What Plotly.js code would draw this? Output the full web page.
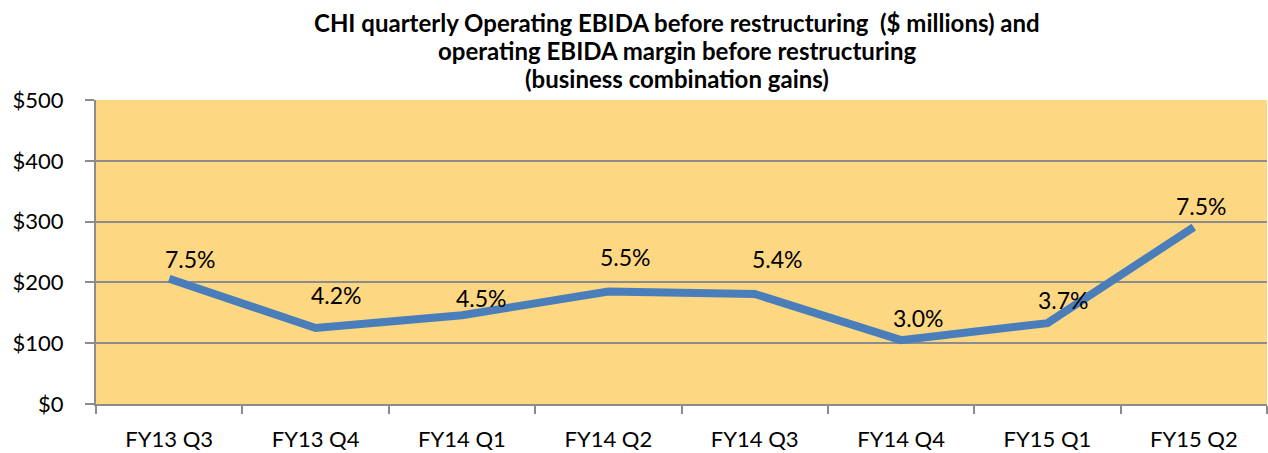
<!DOCTYPE html>
<html>
<head>
<meta charset="utf-8">
<script src="https://cdn.plot.ly/plotly-3.0.1.min.js"></script>
<style>html,body{margin:0;padding:0;background:#fff;}#chart{width:1268px;height:453px;}</style>
</head>
<body>
<div id="chart"></div>
<script>
// Data
const quarters = ["FY13 Q3", "FY13 Q4", "FY14 Q1", "FY14 Q2", "FY14 Q3", "FY14 Q4", "FY15 Q1", "FY15 Q2"];
const ebidaMillions = [206, 125, 146, 185, 181, 105, 133, 291];
const marginLabels = ["7.5%", "4.2%", "4.5%", "5.5%", "5.4%", "3.0%", "3.7%", "7.5%"];
const yTickValues = [0, 100, 200, 300, 400, 500];
const yTickLabels = ["$0", "$100", "$200", "$300", "$400", "$500"];
const titleLines = [
  "CHI quarterly Operating EBIDA before restructuring  ($ millions) and",
  "operating EBIDA margin before restructuring",
  "(business combination gains)"
];

// Label placement styling (pixel offsets of each data label from its point)
const labelShiftX = [21, 21, 20, 17, 23, 17, 16, 8];
const labelShiftY = [20, 33, 17, 35, 35, 22, 23, 21];
// Title line placement (paper y of each line's middle)
const titleLineY = [1.072, 1.164, 1.256];

const FONT = "Lato, 'Open Sans', sans-serif";

const trace = {
  type: "scatter",
  mode: "lines",
  x: quarters,
  y: ebidaMillions,
  line: {color: "#4A7EBB", width: 8},
  hoverinfo: "x+y",
  showlegend: false
};

const annotations = quarters.map((q, i) => ({
  x: q, y: ebidaMillions[i], xref: "x", yref: "y",
  text: marginLabels[i], showarrow: false,
  xanchor: "center", yanchor: "middle",
  xshift: labelShiftX[i], yshift: labelShiftY[i],
  font: {family: FONT, size: 23, color: "#000"}
}));

titleLines.forEach((t, i) => {
  annotations.push({
    text: "<b>" + t + "</b>", showarrow: false,
    xref: "paper", x: 0.496, xanchor: "center",
    yref: "paper", y: titleLineY[titleLines.length - 1 - i], yanchor: "middle",
    font: {family: FONT, size: 24, color: "#000"}
  });
});

const layout = {
  width: 1268, height: 453,
  margin: {l: 96, r: 1, t: 100, b: 49, pad: 0},
  paper_bgcolor: "#ffffff",
  plot_bgcolor: "#FDD782",
  font: {family: FONT, color: "#000"},
  xaxis: {
    type: "category",
    range: [-0.5, 7.5],
    tickson: "boundaries",
    ticks: "outside", ticklen: 8, tickwidth: 2, tickcolor: "#8c8c8c",
    showline: true, linecolor: "#8c8c8c", linewidth: 2,
    showgrid: false, zeroline: false,
    ticklabelstandoff: 15,
    tickfont: {family: FONT, size: 22, color: "#000"},
    fixedrange: true
  },
  yaxis: {
    range: [0, 500],
    tickmode: "array", tickvals: yTickValues, ticktext: yTickLabels,
    ticks: "outside", ticklen: 9, tickwidth: 2, tickcolor: "#8c8c8c",
    showline: true, linecolor: "#8c8c8c", linewidth: 2,
    showgrid: true, gridcolor: "#8c8c8c", gridwidth: 2,
    zeroline: false,
    ticklabelstandoff: 17,
    tickfont: {family: FONT, size: 22, color: "#000"},
    fixedrange: true
  },
  annotations: annotations
};

Plotly.newPlot("chart", [trace], layout, {displayModeBar: false, staticPlot: true});
</script>
</body>
</html>
